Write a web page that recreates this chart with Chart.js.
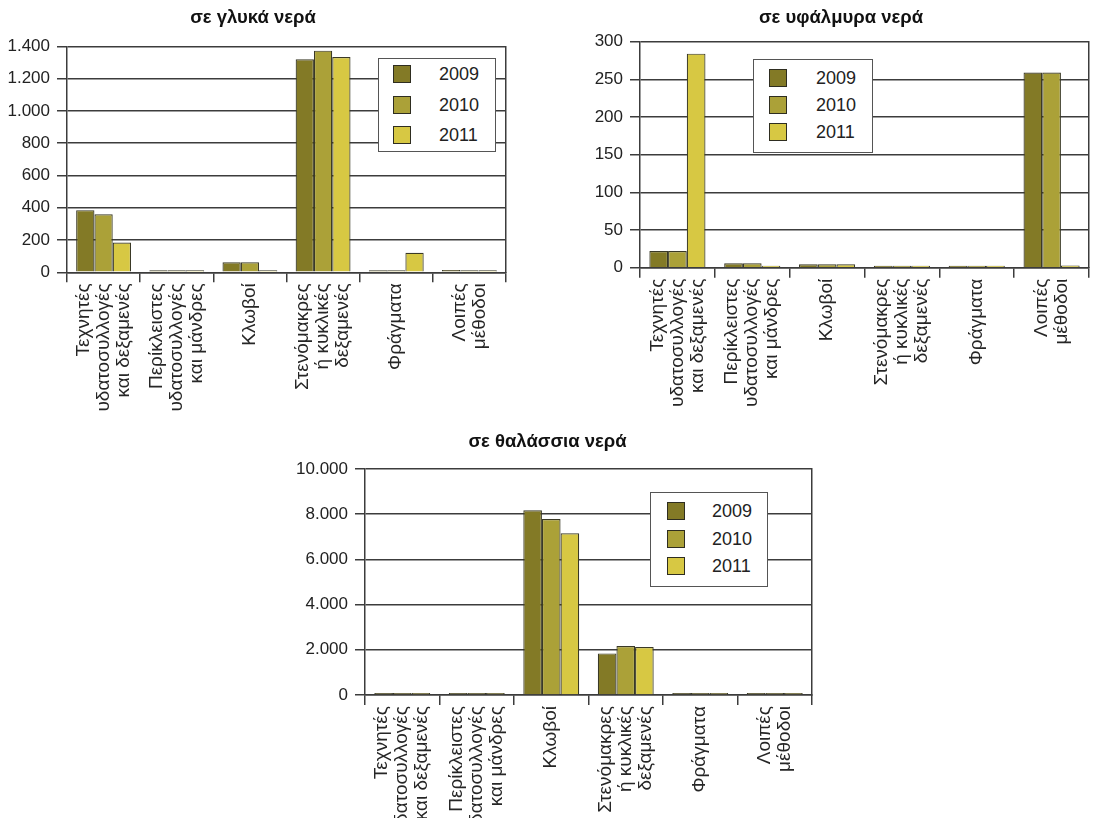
<!DOCTYPE html>
<html lang="el">
<head>
  <meta charset="UTF-8" />
  <title>Υδατοκαλλιέργεια ανά μέθοδο</title>
  <script src="https://cdn.jsdelivr.net/npm/chart.js"></script>
  <style>
    body { margin: 0; background: #fff; width: 1098px; height: 818px; overflow: hidden; position: relative;
           font-family: "Liberation Sans", Arial, sans-serif; }
    canvas { position: absolute; }
    .legend { position: absolute; background: #fff; border: 1.5px solid #555; box-sizing: border-box; }
    .legend .sw { position: absolute; width: 18px; height: 18px; box-sizing: border-box; border: 1.5px solid #2e2d20; }
    .legend .lbl { position: absolute; font-size: 18px; line-height: 18px; color: #222; }
  </style>
</head>
<body>
  <canvas id="fresh" width="530" height="420" style="left:0;top:0;"></canvas>
  <canvas id="brack" width="498" height="420" style="left:593px;top:0;"></canvas>
  <canvas id="marine" width="530" height="394" style="left:283px;top:424px;"></canvas>

  <script>
    // categories and series
    const categories = [
      ['Τεχνητές', 'υδατοσυλλογές', 'και δεξαμενές'],
      ['Περίκλειστες', 'υδατοσυλλογές', 'και μάνδρες'],
      ['Κλωβοί'],
      ['Στενόμακρες', 'ή κυκλικές', 'δεξαμενές'],
      ['Φράγματα'],
      ['Λοιπές', 'μέθοδοι']
    ];
    const years = ['2009', '2010', '2011'];
    const yearColors = ['#837a26', '#aba138', '#d7c843'];

    const fresh2009 = [385, 3, 62, 1320, 2, 15];
    const fresh2010 = [360, 3, 62, 1373, 2, 5];
    const fresh2011 = [185, 3, 3, 1334, 121, 5];

    const brack2009 = [22, 6, 4.5, 0.5, 0.5, 259];
    const brack2010 = [22, 6, 4.5, 0.5, 0.5, 259];
    const brack2011 = [284, 0.5, 4.5, 0.5, 0.5, 3];

    const marine2009 = [40, 10, 8170, 1840, 10, 10];
    const marine2010 = [40, 10, 7780, 2170, 10, 10];
    const marine2011 = [20, 10, 7150, 2120, 10, 10];

    const lineColor = '#3c3c3c';
    const fontFamily = '"Liberation Sans", Arial, sans-serif';

    function fmt(v) {
      return String(v).replace(/\B(?=(\d{3})+(?!\d))/g, '.');
    }

    // rotated multi-line category labels, centred on each tick
    const catLabels = {
      id: 'catLabels',
      afterDraw(chart) {
        const sx = chart.scales.x;
        const ctx = chart.ctx;
        const lh = 20;
        ctx.save();
        ctx.font = '19px ' + fontFamily;
        ctx.fillStyle = '#262626';
        ctx.textAlign = 'right';
        ctx.textBaseline = 'middle';
        categories.forEach((lines, i) => {
          ctx.save();
          ctx.translate(sx.getPixelForTick(i), sx.top + 11);
          ctx.rotate(-Math.PI / 2);
          lines.forEach((t, j) => ctx.fillText(t, 0, (j - (lines.length - 1) / 2) * lh));
          ctx.restore();
        });
        ctx.restore();
      }
    };

    function makeChart(id, title, series, yMax, yStep, lay) {
      return new Chart(document.getElementById(id), {
        type: 'bar',
        data: {
          labels: categories.map(c => c.join(' ')),
          datasets: series.map((vals, i) => ({
            label: years[i],
            data: vals,
            backgroundColor: yearColors[i],
            borderColor: '#3a3926',
            borderWidth: 1.2,
            minBarLength: 2,
            barPercentage: 1,
            categoryPercentage: 0.75
          }))
        },
        plugins: [catLabels],
        options: {
          responsive: false,
          animation: false,
          layout: { padding: { left: 0, right: lay.padRight, top: 0, bottom: 0 } },
          plugins: {
            legend: { display: false },
            tooltip: { enabled: false },
            title: {
              display: true,
              text: title,
              color: '#111',
              font: { family: fontFamily, size: 18.5, weight: 'bold', lineHeight: 1.2 },
              padding: { top: 7, bottom: lay.titleBottom }
            }
          },
          scales: {
            x: {
              grid: { display: true, drawOnChartArea: false, drawTicks: true, tickLength: 10, color: lineColor, lineWidth: 1.5, offset: true },
              border: { display: true, color: lineColor, width: 1.5 },
              ticks: { display: false },
              afterFit: s => { s.height = lay.xHeight; }
            },
            y: {
              min: 0, max: yMax,
              grid: { color: lineColor, lineWidth: 1.5, tickLength: 10, drawTicks: true },
              border: { display: true, color: lineColor, width: 1.5 },
              ticks: {
                stepSize: yStep, padding: 7, color: '#222',
                font: { family: fontFamily, size: 17 },
                callback: v => fmt(v)
              },
              afterFit: s => { s.width = lay.yWidth; }
            },
            y2: {
              position: 'right', min: 0, max: 1,
              grid: { display: false, drawTicks: false },
              border: { display: true, color: lineColor, width: 1.5 },
              ticks: { display: false },
              afterFit: s => { s.width = 0; }
            }
          }
        }
      });
    }

    function makeLegend(box) {
      const el = document.createElement('div');
      el.className = 'legend';
      el.style.left = box.x + 'px';
      el.style.top = box.y + 'px';
      el.style.width = box.w + 'px';
      el.style.height = box.h + 'px';
      years.forEach((yr, i) => {
        const sw = document.createElement('div');
        sw.className = 'sw';
        sw.style.background = yearColors[i];
        sw.style.left = box.sx + 'px';
        sw.style.top = (box.sy + i * box.pitch) + 'px';
        const lb = document.createElement('div');
        lb.className = 'lbl';
        lb.textContent = yr;
        lb.style.left = box.tx + 'px';
        lb.style.top = (box.sy + i * box.pitch) + 'px';
        el.appendChild(sw);
        el.appendChild(lb);
      });
      document.body.appendChild(el);
    }

    makeChart('fresh', 'σε γλυκά νερά', [fresh2009, fresh2010, fresh2011], 1400, 200,
      { yWidth: 67, padRight: 24, titleBottom: 17.1, xHeight: 147.7 });
    makeChart('brack', 'σε υφάλμυρα νερά', [brack2009, brack2010, brack2011], 300, 50,
      { yWidth: 47, padRight: 2, titleBottom: 12.4, xHeight: 152.3 });
    makeChart('marine', 'σε θαλάσσια νερά', [marine2009, marine2010, marine2011], 10000, 2000,
      { yWidth: 82, padRight: 1, titleBottom: 15.7, xHeight: 123 });

    makeLegend({ x: 378, y: 58, w: 118, h: 94, sx: 14, sy: 6, pitch: 30.5, tx: 60 });
    makeLegend({ x: 753, y: 59, w: 120, h: 94, sx: 15, sy: 9, pitch: 27, tx: 62 });
    makeLegend({ x: 650, y: 492, w: 118, h: 95, sx: 16, sy: 9, pitch: 27.5, tx: 61 });
  </script>
</body>
</html>
